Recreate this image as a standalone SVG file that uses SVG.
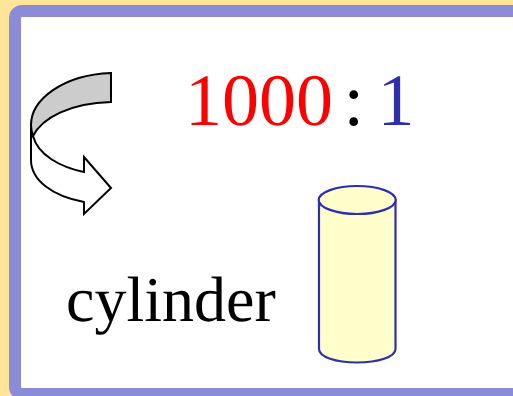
<svg xmlns="http://www.w3.org/2000/svg" width="513" height="396" viewBox="0 0 513 396">
<style>
.t{font-family:"Liberation Serif","Times New Roman",serif;text-rendering:geometricPrecision}
.a{stroke:#000;stroke-width:2;stroke-linejoin:miter}
.c{stroke:#2e2eb0;stroke-width:2.2;fill:#ffffcc}
</style>
<rect width="513" height="396" fill="#ffe599"/>
<rect id="frame" x="15" y="11" width="520" height="383" rx="7" fill="#fff" stroke="#8b8bd8" stroke-width="12"/>
<g id="arrow">
<path class="a" fill="#fff" d="M31 125V160C31 180 52 196 84 202V214L111 188L84 157V172C60 167 38 155 33 136Z"/>
<path class="a" fill="#ccc" d="M111 73C62 75 31 100 31 125C31 129 32 133 33 136C42 118 70 103 111 102Z"/>
</g>
<g id="ratio" class="t" font-size="74"><text x="185" y="125" fill="#ff0000">1000</text><text x="343.500" y="125" fill="#000">:</text><text x="377.500" y="125" fill="#2e2eb0">1</text></g>
<text id="label" class="t" x="66" y="321" font-size="64" fill="#000">cylinder</text>
<g id="cylinder">
<path class="c" d="M319 200V349C319 357 336 362.500 357 362.500C378 362.500 395.500 357 395.500 349V200Z"/>
<ellipse class="c" cx="357.200" cy="200" rx="38.500" ry="14"/>
</g>
</svg>
